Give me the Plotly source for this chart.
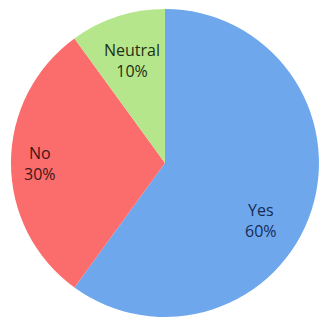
import math
import plotly.graph_objects as go

labels = ["Yes", "No", "Neutral"]
values = [60, 30, 10]
colors = ["#6ea7ec", "#fb6c6c", "#b6e68c"]
text_colors = ["#172c57", "#3d1616", "#1f3014"]
label_radius = [0.73, 0.81, 0.70]   # fraction of radius where label sits
label_angle_shift = [13, 0, 0]      # degrees, clockwise from slice mid-angle

W, H = 320, 322
dom_x = [0.034, 0.997]
dom_y = [0.0155, 0.972]

fig = go.Figure(go.Pie(
    labels=labels,
    values=values,
    sort=False,
    direction="clockwise",
    rotation=0,
    marker=dict(colors=colors, line=dict(width=0)),
    textinfo="none",
    domain=dict(x=dom_x, y=dom_y),
    showlegend=False,
    hoverinfo="skip",
))

# label annotations derived from the data (mid-angle of each slice)
cx = (dom_x[0] + dom_x[1]) / 2 * W
cy = (dom_y[0] + dom_y[1]) / 2 * H
r = min((dom_x[1] - dom_x[0]) * W, (dom_y[1] - dom_y[0]) * H) / 2
total = sum(values)
cum = 0
for lab, v, tc, fr, sh in zip(labels, values, text_colors, label_radius, label_angle_shift):
    mid = (cum + v / 2) / total * 2 * math.pi + math.radians(sh)
    cum += v
    px = cx + fr * r * math.sin(mid)
    py = cy + fr * r * math.cos(mid)
    fig.add_annotation(
        x=px / W, y=py / H, xref="paper", yref="paper",
        xanchor="center", yanchor="middle",
        text=f"{lab}<br>{round(v / total * 100)}%",
        showarrow=False,
        font=dict(family="Open Sans, Liberation Sans, sans-serif", size=16, color=tc),
        align="center",
    )

fig.update_layout(
    width=W, height=H,
    margin=dict(l=0, r=0, t=0, b=0),
    paper_bgcolor="white",
    plot_bgcolor="white",
)

fig.write_html("out.html")
